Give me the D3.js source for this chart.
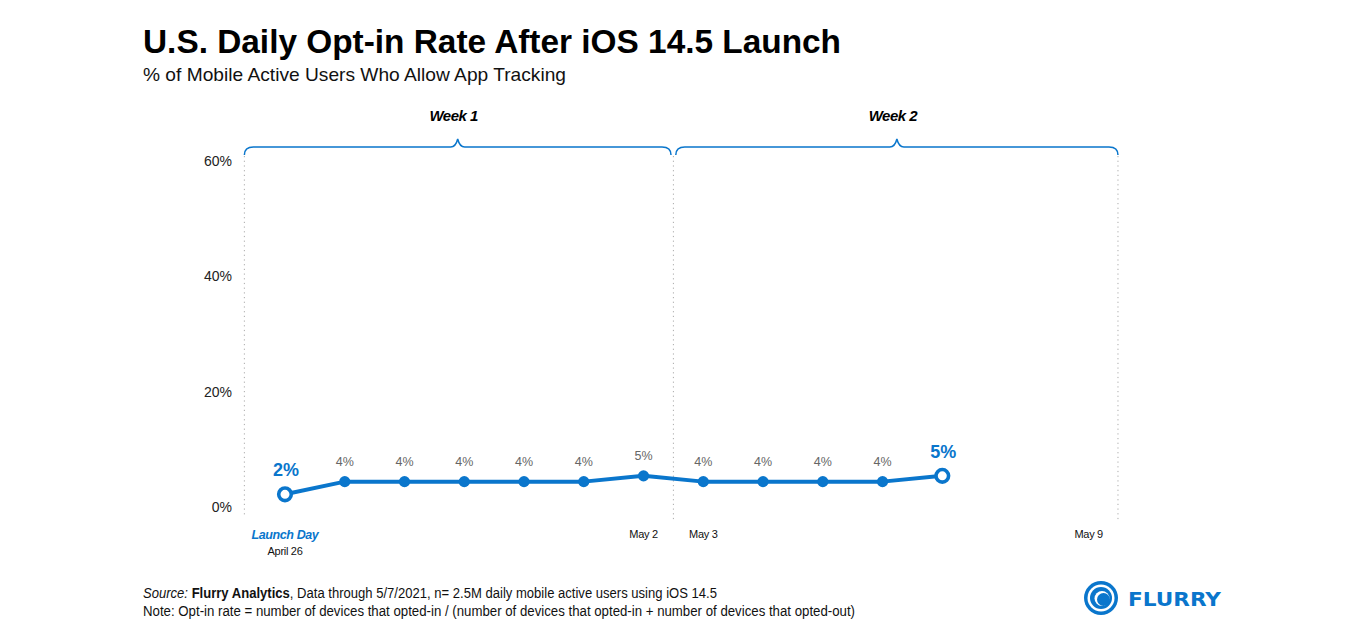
<!DOCTYPE html>
<html><head><meta charset="utf-8">
<script src="https://cdn.jsdelivr.net/npm/d3@7/dist/d3.min.js"></script>
<style>
html,body{margin:0;padding:0;background:#fff;}
svg{display:block;font-family:"Liberation Sans",Arial,sans-serif;}
</style></head>
<body>
<svg id="c" width="1366" height="638"></svg>
<script>
// ---- data ----
const days = ["Apr 26","Apr 27","Apr 28","Apr 29","Apr 30","May 1","May 2","May 3","May 4","May 5","May 6","May 7"];
const optInRate = [2.2, 4.4, 4.4, 4.4, 4.4, 4.4, 5.4, 4.4, 4.4, 4.4, 4.4, 5.4];
const valueLabels = ["2%","4%","4%","4%","4%","4%","5%","4%","4%","4%","4%","5%"];
const highlighted = [0, 11];
const yTicks = [0, 20, 40, 60];
const xTickLabels = [
  {day: 6, label: "May 2"},
  {day: 7, label: "May 3"},
  {day: 13.45, label: "May 9"}
];
const weeks = [
  {name: "Week 1", start: -0.68, end: 6.46},
  {name: "Week 2", start: 6.54, end: 13.94}
];
const weekDividers = [-0.68, 6.5, 13.94];

const blue = "#0a76cc";
const svg = d3.select("#c");

const x = d3.scaleLinear().domain([0, 11]).range([285, 942.3]);
const y = d3.scaleLinear().domain([0, 60]).range([507, 161]);

// title
svg.append("text").attr("x", 143).attr("y", 53)
  .attr("font-size", 33).attr("font-weight", "bold").attr("fill", "#000")
  .attr("textLength", 698).attr("lengthAdjust", "spacingAndGlyphs")
  .text("U.S. Daily Opt-in Rate After iOS 14.5 Launch");
svg.append("text").attr("x", 143).attr("y", 81)
  .attr("font-size", 19).attr("fill", "#111")
  .attr("textLength", 423).attr("lengthAdjust", "spacingAndGlyphs")
  .text("% of Mobile Active Users Who Allow App Tracking");

// y axis labels
svg.append("g").selectAll("text").data(yTicks).join("text")
  .attr("x", 232).attr("y", d => y(d)).attr("dy", "0.35em")
  .attr("text-anchor", "end").attr("font-size", 14).attr("fill", "#222")
  .text(d => d + "%");

// dotted dividers
svg.append("g").selectAll("line").data(weekDividers).join("line")
  .attr("x1", d => x(d)).attr("x2", d => x(d))
  .attr("y1", 156).attr("y2", (d, i) => i === 0 ? 515 : 522)
  .attr("stroke", "#aaa").attr("stroke-width", 1).attr("stroke-dasharray", "1.2,3.5");

// braces
function bracePath(x0, x1, yb) {
  const tip = (x0 + x1) / 2;
  return `M${x0},${yb+8} Q${x0},${yb} ${x0+9},${yb} L${tip-7},${yb} Q${tip-2},${yb} ${tip},${yb-8} Q${tip+2},${yb} ${tip+7},${yb} L${x1-9},${yb} Q${x1},${yb} ${x1},${yb+8}`;
}
const wg = svg.append("g");
wg.selectAll("path").data(weeks).join("path")
  .attr("d", d => bracePath(x(d.start), x(d.end), 147))
  .attr("fill", "none").attr("stroke", blue).attr("stroke-width", 1.5);
wg.selectAll("text").data(weeks).join("text")
  .attr("x", d => (x(d.start) + x(d.end)) / 2 - 4).attr("y", 121)
  .attr("text-anchor", "middle").attr("font-size", 15).attr("font-weight", "bold")
  .attr("font-style", "italic").attr("fill", "#000").attr("letter-spacing", -0.5)
  .text(d => d.name);

// line
const line = d3.line().x((d, i) => x(i)).y(d => y(d));
svg.append("path").datum(optInRate).attr("d", line)
  .attr("fill", "none").attr("stroke", blue).attr("stroke-width", 4).attr("stroke-linejoin", "round");

// dots
svg.append("g").selectAll("circle").data(optInRate).join("circle")
  .attr("cx", (d, i) => x(i)).attr("cy", d => y(d))
  .attr("r", (d, i) => highlighted.includes(i) ? 6.3 : 5.6)
  .attr("fill", (d, i) => highlighted.includes(i) ? "#fff" : blue)
  .attr("stroke", blue).attr("stroke-width", (d, i) => highlighted.includes(i) ? 3.6 : 0);

// value labels
svg.append("g").selectAll("text").data(optInRate).join("text")
  .attr("x", (d, i) => x(i) + (highlighted.includes(i) ? 1 : 0))
  .attr("y", (d, i) => y(d) - (highlighted.includes(i) ? 18 : 16))
  .attr("text-anchor", "middle")
  .attr("font-size", (d, i) => highlighted.includes(i) ? 18 : 12.5)
  .attr("font-weight", (d, i) => highlighted.includes(i) ? "bold" : "normal")
  .attr("fill", (d, i) => highlighted.includes(i) ? blue : "#666")
  .text((d, i) => valueLabels[i]);

// x labels
svg.append("text").attr("x", x(0)).attr("y", 539).attr("text-anchor", "middle")
  .attr("font-size", 12.5).attr("font-weight", "bold").attr("font-style", "italic")
  .attr("fill", blue).attr("letter-spacing", -0.4).text("Launch Day");
svg.append("text").attr("x", x(0)).attr("y", 555).attr("text-anchor", "middle")
  .attr("font-size", 11).attr("fill", "#111").attr("letter-spacing", -0.3).text("April 26");
svg.append("g").selectAll("text").data(xTickLabels).join("text")
  .attr("x", d => x(d.day)).attr("y", 538).attr("text-anchor", "middle")
  .attr("font-size", 11).attr("fill", "#111").attr("letter-spacing", -0.3)
  .text(d => d.label);

// footer
const f1 = svg.append("text").attr("x", 143).attr("y", 598).attr("font-size", 14).attr("fill", "#111")
  .attr("textLength", 574).attr("lengthAdjust", "spacingAndGlyphs");
f1.append("tspan").attr("font-style", "italic").text("Source: ");
f1.append("tspan").attr("font-weight", "bold").text("Flurry Analytics");
f1.append("tspan").text(", Data through 5/7/2021, n= 2.5M daily mobile active users using iOS 14.5");
svg.append("text").attr("x", 143).attr("y", 616).attr("font-size", 14).attr("fill", "#111")
  .attr("textLength", 712).attr("lengthAdjust", "spacingAndGlyphs")
  .text("Note: Opt-in rate = number of devices that opted-in / (number of devices that opted-in + number of devices that opted-out)");

// logo
const lg = svg.append("g").attr("transform", "translate(1101,598)");
lg.append("circle").attr("r", 17).attr("fill", blue);
lg.append("circle").attr("r", 13.5).attr("fill", "#fff");
lg.append("circle").attr("r", 11).attr("fill", blue);
lg.append("circle").attr("r", 7.5).attr("cx", 1).attr("cy", 0.5).attr("fill", "#fff");
lg.append("circle").attr("r", 6.5).attr("cx", 2.5).attr("cy", 1.5).attr("fill", blue);
svg.append("text").attr("x", 1128).attr("y", 606).attr("font-size", 20).attr("font-weight", "900")
  .attr("fill", blue).attr("font-family", "'DejaVu Sans', sans-serif")
  .attr("textLength", 93).attr("lengthAdjust", "spacingAndGlyphs").text("FLURRY");
</script>
</body></html>
